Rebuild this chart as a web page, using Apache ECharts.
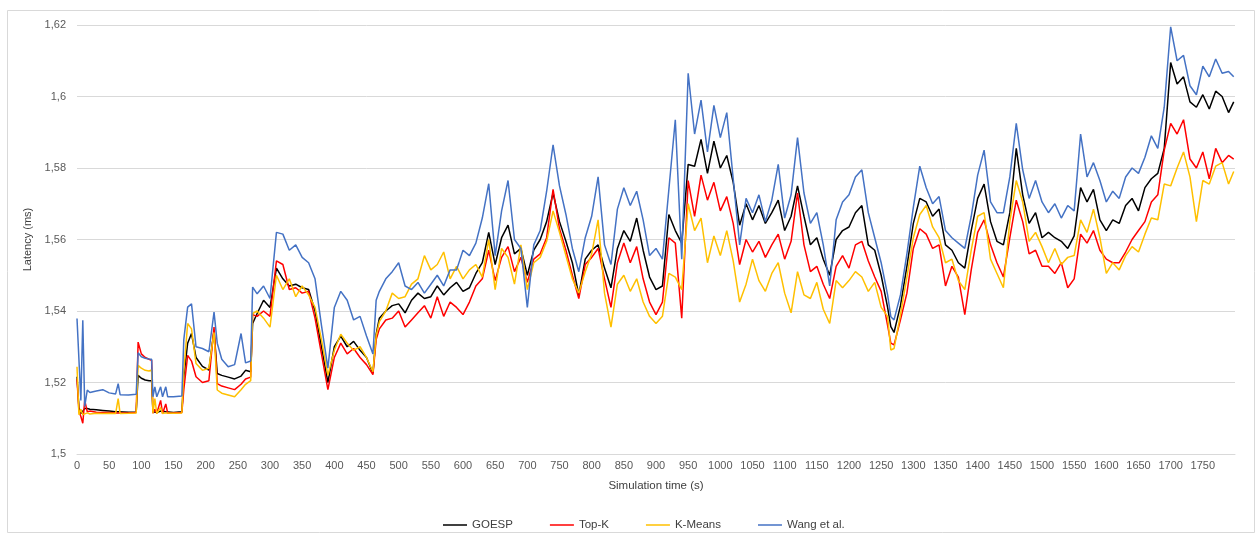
<!DOCTYPE html>
<html>
<head>
<meta charset="utf-8">
<title>Latency over simulation time</title>
<script src="https://cdn.jsdelivr.net/npm/echarts@6/dist/echarts.min.js"></script>
<style>
  html, body { margin: 0; padding: 0; background: #fff; }
  #chart { width: 1258px; height: 535px; }
</style>
</head>
<body>
<div id="chart"></div>
<script>
  // simulation time (s), shared by all series
  var times = [
    0,3,6,9,12,16,20,30,40,50,
    60,64,67,80,92,95,100,106,112,116,
    118,121,124,130,133,138,141,150,163,166,
    172,178,185,195,205,213,218,225,235,245,
    255,262,270,273,280,
    290,300,310,320,330,340,350,360,370,380,
    390,400,410,420,430,440,450,460,465,470,
    480,490,500,510,520,530,540,550,560,570,
    580,590,600,610,620,630,640,650,660,670,
    680,690,700,710,720,730,740,750,760,770,
    780,790,800,810,820,830,840,850,860,870,
    880,890,900,910,920,930,940,950,960,970,
    980,990,1000,1010,1020,1030,1040,1050,1060,1070,
    1080,1090,1100,1110,1120,1130,1140,1150,1160,1170,
    1180,1190,1200,1210,1220,1230,1240,1250,1260,1265,
    1270,1280,1290,1300,1310,1320,1330,1340,1350,1360,
    1370,1380,1390,1400,1410,1420,1430,1440,1450,1460,
    1470,1480,1490,1500,1510,1520,1530,1540,1550,1560,
    1570,1580,1590,1600,1610,1620,1630,1640,1650,1660,
    1670,1680,1690,1700,1710,1720,1730,1740,1750,1760,
    1770,1780,1790,1798
  ];

  // latency (ms)
  var goesp = [
    1.5216,1.513,1.5113,1.512,1.5127,1.5127,1.5125,1.5124,1.5122,1.512,
    1.5118,1.5118,1.5117,1.5117,1.5117,1.522,1.5212,1.5207,1.5205,1.5205,
    1.5118,1.512,1.5116,1.512,1.5116,1.5118,1.5115,1.5116,1.5118,1.5215,
    1.531,1.5337,1.527,1.5245,1.5235,1.5346,1.5225,1.522,1.5215,1.521,
    1.5218,1.5234,1.523,1.5365,1.5393,
    1.543,1.541,1.552,1.549,1.547,1.5475,1.5465,1.546,1.54,1.53,
    1.52,1.53,1.533,1.53,1.5315,1.529,1.527,1.5226,1.5335,1.538,
    1.54,1.5415,1.542,1.5395,1.543,1.545,1.5435,1.544,1.547,1.5445,
    1.5465,1.548,1.5455,1.5465,1.5505,1.5535,1.562,1.553,1.5605,1.564,
    1.556,1.5575,1.55,1.557,1.56,1.565,1.573,1.565,1.5595,1.5535,
    1.5445,1.5545,1.557,1.5585,1.552,1.5465,1.5575,1.5625,1.5595,1.566,
    1.557,1.5495,1.546,1.547,1.567,1.5625,1.559,1.581,1.5805,1.588,
    1.5785,1.5875,1.58,1.5835,1.576,1.564,1.57,1.5655,1.5695,1.5645,
    1.5675,1.571,1.5625,1.5665,1.575,1.5665,1.5585,1.5605,1.5545,1.55,
    1.56,1.5625,1.5635,1.5675,1.5695,1.5585,1.557,1.55,1.541,1.5356,
    1.534,1.5415,1.5525,1.5645,1.5715,1.5705,1.5665,1.5685,1.5585,1.557,
    1.5535,1.552,1.5625,1.5715,1.5755,1.565,1.5595,1.5585,1.5675,1.5855,
    1.5725,1.5645,1.5675,1.5605,1.562,1.5605,1.5595,1.5575,1.561,1.5745,
    1.5705,1.574,1.5655,1.5625,1.5655,1.5645,1.5695,1.5715,1.568,1.5745,
    1.577,1.5785,1.5855,1.6095,1.6035,1.6055,1.5985,1.597,1.6005,1.5965,
    1.6015,1.6,1.5955,1.5985
  ];
  var topK = [
    1.521,1.512,1.5105,1.5086,1.515,1.5118,1.512,1.5117,1.5116,1.5116,
    1.5115,1.5115,1.5115,1.5115,1.5116,1.5313,1.528,1.527,1.5265,1.5262,
    1.5114,1.5125,1.5114,1.515,1.5113,1.514,1.5114,1.5115,1.5116,1.518,
    1.5276,1.526,1.5216,1.52,1.5205,1.5355,1.5197,1.519,1.5185,1.518,
    1.5195,1.521,1.5215,1.539,1.5385,
    1.54,1.5385,1.554,1.553,1.546,1.5465,1.545,1.5455,1.538,1.528,
    1.518,1.527,1.531,1.528,1.5295,1.527,1.525,1.5222,1.532,1.535,
    1.5375,1.538,1.54,1.5355,1.5375,1.5395,1.5415,1.538,1.544,1.5385,
    1.5425,1.541,1.539,1.5425,1.547,1.549,1.557,1.5485,1.555,1.558,
    1.551,1.555,1.548,1.5545,1.556,1.5605,1.574,1.563,1.557,1.55,
    1.5435,1.553,1.555,1.5575,1.549,1.541,1.5535,1.559,1.5535,1.558,
    1.549,1.5425,1.539,1.5425,1.5605,1.559,1.538,1.5765,1.5665,1.578,
    1.571,1.576,1.568,1.572,1.5645,1.553,1.56,1.5565,1.5595,1.555,
    1.5585,1.5615,1.5545,1.5595,1.573,1.5585,1.551,1.5525,1.5475,1.5435,
    1.5525,1.5555,1.552,1.5585,1.5595,1.554,1.5495,1.5455,1.536,1.531,
    1.5305,1.5375,1.545,1.5575,1.563,1.5615,1.5575,1.5585,1.547,1.5525,
    1.5495,1.539,1.5515,1.562,1.5655,1.5585,1.5535,1.5495,1.5605,1.571,
    1.565,1.556,1.557,1.5525,1.5525,1.5505,1.5535,1.5465,1.549,1.5615,
    1.559,1.5625,1.557,1.5545,1.5535,1.5535,1.5565,1.56,1.5625,1.565,
    1.5705,1.5725,1.585,1.5925,1.5895,1.5935,1.5825,1.58,1.5845,1.577,
    1.5855,1.5815,1.5835,1.5825
  ];
  var kMeans = [
    1.5244,1.511,1.5125,1.511,1.5115,1.5115,1.5112,1.5114,1.5113,1.5114,
    1.5113,1.5155,1.5113,1.5114,1.5115,1.5248,1.524,1.5234,1.5232,1.5235,
    1.5114,1.5155,1.5113,1.513,1.5113,1.5115,1.5113,1.5114,1.5115,1.523,
    1.5365,1.535,1.5253,1.5234,1.524,1.534,1.5179,1.517,1.5165,1.516,
    1.518,1.5195,1.5205,1.5393,1.54,
    1.538,1.5355,1.55,1.546,1.549,1.544,1.547,1.5445,1.541,1.532,
    1.522,1.529,1.5335,1.531,1.529,1.53,1.527,1.523,1.533,1.537,
    1.54,1.545,1.5435,1.544,1.5475,1.549,1.5555,1.5515,1.553,1.5565,
    1.549,1.5525,1.549,1.5515,1.553,1.5495,1.56,1.546,1.5575,1.555,
    1.5475,1.5585,1.546,1.5535,1.555,1.5595,1.568,1.562,1.5555,1.549,
    1.545,1.551,1.556,1.5655,1.545,1.5355,1.5475,1.55,1.5455,1.549,
    1.5425,1.5385,1.5365,1.5385,1.5505,1.5495,1.546,1.57,1.5625,1.566,
    1.5535,1.561,1.5555,1.5625,1.554,1.5425,1.5475,1.5545,1.5485,1.5455,
    1.5505,1.5535,1.545,1.5395,1.551,1.5445,1.5435,1.548,1.5405,1.5365,
    1.5485,1.5465,1.5485,1.551,1.5495,1.5455,1.548,1.541,1.5385,1.5291,
    1.5295,1.539,1.5495,1.5605,1.567,1.5695,1.5635,1.5605,1.5535,1.5545,
    1.5485,1.546,1.557,1.5665,1.5675,1.5545,1.5505,1.5465,1.565,1.5765,
    1.5705,1.5595,1.562,1.558,1.5535,1.5575,1.553,1.555,1.5555,1.5655,
    1.562,1.5685,1.5605,1.5505,1.5535,1.5515,1.5555,1.558,1.5565,1.5615,
    1.566,1.5655,1.5755,1.575,1.58,1.5845,1.5775,1.565,1.5765,1.5755,
    1.5805,1.5815,1.5755,1.579
  ];
  var wang = [
    1.5379,1.5374,1.515,1.5374,1.5133,1.5179,1.5172,1.5176,1.518,1.5171,
    1.5168,1.5197,1.5166,1.5165,1.5167,1.5283,1.5272,1.5268,1.5266,1.5265,
    1.516,1.5188,1.516,1.5188,1.516,1.5188,1.516,1.516,1.5162,1.532,
    1.5411,1.542,1.53,1.5295,1.5286,1.5397,1.531,1.5265,1.5244,1.525,
    1.5337,1.5255,1.526,1.5467,1.5448,
    1.547,1.5435,1.562,1.5615,1.557,1.5585,1.555,1.5535,1.549,1.536,
    1.524,1.541,1.5455,1.543,1.5375,1.5385,1.533,1.528,1.543,1.5455,
    1.549,1.551,1.5535,1.547,1.546,1.548,1.545,1.5475,1.55,1.547,
    1.5515,1.5515,1.557,1.5555,1.559,1.566,1.5756,1.5555,1.568,1.5765,
    1.56,1.5575,1.541,1.5585,1.5625,1.5735,1.5865,1.575,1.567,1.5575,
    1.551,1.5605,1.5665,1.5775,1.5585,1.553,1.5685,1.5745,1.5695,1.5735,
    1.5655,1.5555,1.5575,1.5545,1.574,1.5935,1.5545,1.6065,1.5895,1.599,
    1.5845,1.5975,1.5885,1.5955,1.577,1.5585,1.5715,1.5675,1.5725,1.565,
    1.571,1.581,1.566,1.5725,1.5885,1.573,1.5645,1.5675,1.5585,1.547,
    1.5655,1.5705,1.5725,1.5775,1.5795,1.5675,1.5605,1.5535,1.5445,1.5384,
    1.5375,1.5445,1.556,1.569,1.5805,1.5745,1.57,1.572,1.5625,1.5605,
    1.559,1.5575,1.5665,1.578,1.585,1.5705,1.5675,1.5675,1.5775,1.5925,
    1.5795,1.5715,1.5765,1.5705,1.5675,1.57,1.566,1.5695,1.568,1.5895,
    1.5775,1.5815,1.5765,1.5705,1.5735,1.5715,1.5775,1.58,1.5785,1.583,
    1.589,1.5855,1.597,1.6195,1.61,1.6115,1.603,1.6005,1.6085,1.6055,
    1.6105,1.6065,1.607,1.6055
  ];

  var seriesNames = ['GOESP', 'Top-K', 'K-Means', 'Wang et al.'];
  var seriesColors = ['#000000', '#ff0000', '#ffc000', '#4472c4'];
  var seriesValues = [goesp, topK, kMeans, wang];

  function pairs(vals) {
    var out = [];
    for (var i = 0; i < times.length; i++) {
      out.push([times[i], vals[i]]);
    }
    return out;
  }

  var font = "'Liberation Sans', Arial, sans-serif";
  var chart = echarts.init(document.getElementById('chart'), null, { renderer: 'canvas' });

  var option = {
    animation: false,
    backgroundColor: '#fff',
    color: seriesColors,
    graphic: [{
      type: 'rect',
      shape: { x: 7.5, y: 10.5, width: 1247, height: 522 },
      style: { fill: 'none', stroke: '#d9d9d9', lineWidth: 1 },
      silent: true
    }],
    grid: { left: 77, top: 25, width: 1158, height: 429 },
    legend: {
      left: 438,
      top: 514,
      icon: 'rect',
      itemWidth: 24,
      itemHeight: 1.5,
      itemGap: 37,
      textStyle: { fontFamily: font, fontSize: 11.5, color: '#404040' },
      data: seriesNames
    },
    xAxis: {
      type: 'value',
      min: 0,
      max: 1800,
      interval: 50,
      name: 'Simulation time (s)',
      nameLocation: 'middle',
      nameGap: 26,
      nameTextStyle: { fontFamily: font, fontSize: 11.5, color: '#404040' },
      axisLine: { show: true, lineStyle: { color: '#d9d9d9', width: 1 } },
      axisTick: { show: false },
      splitLine: { show: false },
      axisLabel: {
        fontFamily: font, fontSize: 11, color: '#595959', margin: 6,
        showMaxLabel: false,
        formatter: function (v) { return String(v); }
      }
    },
    yAxis: {
      type: 'value',
      min: 1.5,
      max: 1.62,
      interval: 0.02,
      name: 'Latency (ms)',
      nameLocation: 'middle',
      nameGap: 39,
      nameRotate: 90,
      nameTextStyle: { fontFamily: font, fontSize: 11, color: '#404040' },
      axisLine: { show: false },
      axisTick: { show: false },
      splitLine: { lineStyle: { color: '#d9d9d9', width: 1 } },
      axisLabel: {
        fontFamily: font, fontSize: 11, color: '#595959', margin: 11,
        formatter: function (v) { return String(+v.toFixed(2)).replace('.', ','); }
      }
    },
    series: seriesNames.map(function (name, i) {
      return {
        name: name,
        type: 'line',
        data: pairs(seriesValues[i]),
        showSymbol: false,
        symbol: 'none',
        lineStyle: { width: 1.5, color: seriesColors[i] },
        itemStyle: { color: seriesColors[i] }
      };
    })
  };

  chart.setOption(option);
</script>
</body>
</html>
